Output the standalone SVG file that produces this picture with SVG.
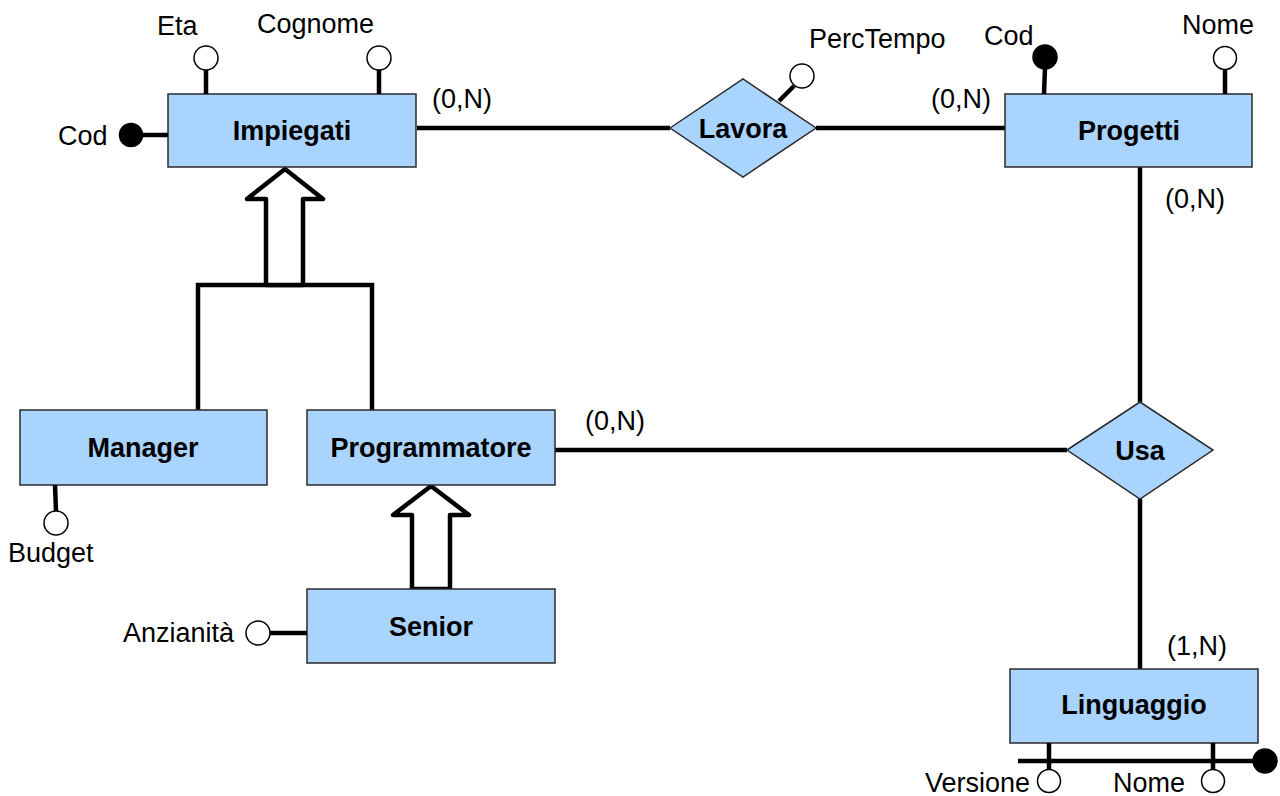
<svg xmlns="http://www.w3.org/2000/svg" width="1280" height="796" viewBox="0 0 1280 796">
<style>
.ent{fill:#a9d4fd;stroke:#2a2a2a;stroke-width:1.5}
.rel{fill:#a9d4fd;stroke:#2a2a2a;stroke-width:1.5}
.lbl{font-family:"Liberation Sans",Arial,sans-serif;font-size:27px;font-weight:bold;fill:#000;text-anchor:middle}
.txt{font-family:"Liberation Sans",Arial,sans-serif;font-size:27px;fill:#000}
.ln{stroke:#000;stroke-width:4.5;fill:none}
.att{fill:#fff;stroke:#000;stroke-width:1.5}
.key{fill:#000;stroke:#000;stroke-width:1.5}
.isa{fill:#fff;stroke:#000;stroke-width:4.5;stroke-linejoin:round}
</style>
<rect width="1280" height="796" fill="#fff"/>
<g id="connectors">
<line class="ln" x1="417" y1="128" x2="670" y2="128"/>
<line class="ln" x1="816" y1="128" x2="1005" y2="128"/>
<line class="ln" x1="1140" y1="167" x2="1140" y2="402"/>
<line class="ln" x1="555" y1="450" x2="1067" y2="450"/>
<line class="ln" x1="1140" y1="499" x2="1140" y2="669"/>
<polyline class="ln" points="198,410 198,285 372,285 372,410"/>
<polygon class="isa" points="285,169 323,199 303,199 303,285 266,285 266,199 247,199"/>
<polygon class="isa" points="431,486 469,515 450,515 450,589 412,589 412,515 393,515"/>
<text class="txt" x="432" y="108">(0,N)</text>
<text class="txt" x="931" y="108">(0,N)</text>
<text class="txt" x="1165" y="208">(0,N)</text>
<text class="txt" x="585" y="430">(0,N)</text>
<text class="txt" x="1167" y="655">(1,N)</text>
</g>
<g id="impiegati">
<rect class="ent" x="168" y="94" width="248" height="73"/>
<text class="lbl" x="292" y="140">Impiegati</text>
<line class="ln" x1="143" y1="135" x2="168" y2="135"/>
<circle class="key" cx="131" cy="135" r="11.5"/>
<text class="txt" x="58" y="145">Cod</text>
<line class="ln" x1="206" y1="70" x2="206" y2="94"/>
<circle class="att" cx="206" cy="58" r="12"/>
<text class="txt" x="157" y="35">Eta</text>
<line class="ln" x1="379" y1="70" x2="379" y2="94"/>
<circle class="att" cx="379" cy="58" r="12"/>
<text class="txt" x="257" y="33">Cognome</text>
</g>
<g id="lavora">
<polygon class="rel" points="670,128 743,79 816,128 743,177"/>
<text class="lbl" x="743" y="138">Lavora</text>
<line class="ln" x1="779" y1="101" x2="794" y2="86"/>
<circle class="att" cx="802" cy="76" r="12"/>
<text class="txt" x="809" y="48">PercTempo</text>
</g>
<g id="progetti">
<rect class="ent" x="1005" y="94" width="247" height="73"/>
<text class="lbl" x="1129" y="140">Progetti</text>
<line class="ln" x1="1044" y1="94" x2="1045" y2="68"/>
<circle class="key" cx="1045" cy="57" r="12"/>
<text class="txt" x="984" y="45">Cod</text>
<line class="ln" x1="1225" y1="70" x2="1225" y2="94"/>
<circle class="att" cx="1225" cy="58" r="11.5"/>
<text class="txt" x="1182" y="34">Nome</text>
</g>
<g id="manager">
<rect class="ent" x="20" y="410" width="247" height="75"/>
<text class="lbl" x="143" y="457">Manager</text>
<line class="ln" x1="55" y1="485" x2="56" y2="511"/>
<circle class="att" cx="56" cy="523" r="12"/>
<text class="txt" x="8" y="562">Budget</text>
</g>
<g id="programmatore">
<rect class="ent" x="307" y="410" width="248" height="75"/>
<text class="lbl" x="431" y="457">Programmatore</text>
</g>
<g id="senior">
<rect class="ent" x="307" y="589" width="248" height="74"/>
<text class="lbl" x="431" y="636">Senior</text>
<line class="ln" x1="270" y1="633" x2="307" y2="633"/>
<circle class="att" cx="258" cy="633" r="12"/>
<text class="txt" x="123" y="642">Anzianità</text>
</g>
<g id="usa">
<polygon class="rel" points="1067,450 1140,402 1213,450 1140,499"/>
<text class="lbl" x="1140" y="460">Usa</text>
</g>
<g id="linguaggio">
<rect class="ent" x="1010" y="669" width="248" height="74"/>
<text class="lbl" x="1134" y="714">Linguaggio</text>
<line class="ln" x1="1018" y1="761" x2="1262" y2="761"/>
<circle class="key" cx="1265" cy="761" r="12"/>
<line class="ln" x1="1049" y1="743" x2="1049" y2="769"/>
<circle class="att" cx="1049" cy="781" r="11.5"/>
<text class="txt" x="1030" y="792" text-anchor="end">Versione</text>
<line class="ln" x1="1213" y1="743" x2="1213" y2="769"/>
<circle class="att" cx="1213" cy="781" r="11.5"/>
<text class="txt" x="1113" y="792">Nome</text>
</g>
</svg>
